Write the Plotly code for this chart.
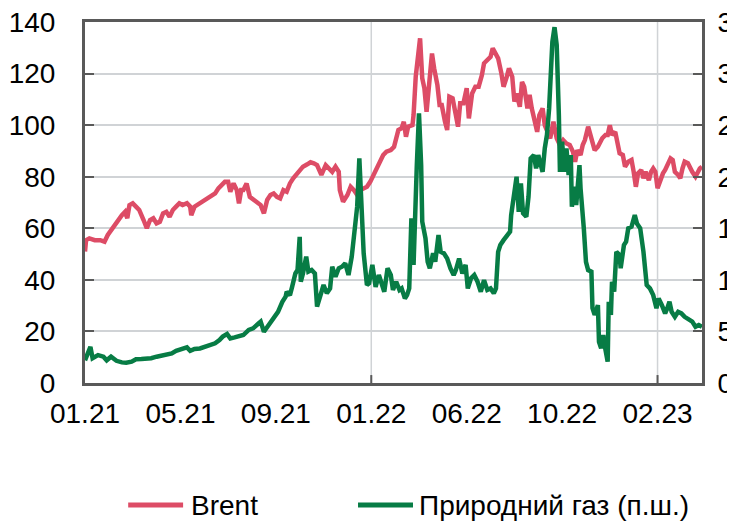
import plotly.graph_objects as go

# x positions are trading-day indices (tick label every 88 trading days)
tick_pos = [0, 88, 176, 264, 352, 440, 528]
tick_labels = ["01.21", "05.21", "09.21", "01.22", "06.22", "10.22", "02.23"]
grid_days = [264, 528]

brent_x = [0, 1, 4, 9, 14, 18, 21, 24, 27, 30, 34, 37, 39, 41, 44, 47, 50, 54, 57, 60,
           63, 66, 69, 72, 75, 78, 81, 84, 87, 90, 94, 97, 98, 101, 106, 110, 115, 120, 123, 126,
           129, 132, 134, 137, 140, 142, 144, 146, 149, 152, 155, 158, 162, 165, 168, 171, 174, 177, 180, 183,
           186, 189, 192, 195, 198, 201, 205, 208, 211, 214, 218, 222, 225, 228, 231, 234, 235, 238, 242, 245,
           248, 251, 254, 257, 260, 263, 266, 269, 272, 275, 278, 282, 285, 286, 289, 292, 294, 296, 298, 302,
           303, 305, 307, 309, 311, 313, 315, 318, 320, 322, 325, 327, 329, 332, 334, 336, 339, 342, 344, 346,
           349, 352, 354, 357, 360, 363, 366, 368, 371, 374, 376, 378, 381, 384, 386, 389, 391, 394, 396, 398,
           401, 403, 405, 408, 410, 412, 415, 417, 419, 422, 424, 426, 429, 432, 435, 438, 441, 444, 447, 450,
           452, 454, 457, 459, 461, 464, 466, 468, 470, 473, 475, 477, 480, 482, 484, 486, 489, 491, 493, 496,
           498, 501, 504, 506, 508, 510, 513, 515, 517, 520, 522, 524, 526, 528, 530, 533, 535, 537, 540, 542,
           544, 547, 549, 551, 553, 556, 558, 560, 563, 565, 567, 569]
brent_y = [51, 55.4, 56.1, 55.4, 55.4, 54.8, 57.4, 59.3, 61.3, 63.2, 65.1, 66.4, 63.9, 69, 69.7, 68.4, 67.1, 63.2, 60, 63.2,
           63.9, 61.9, 62.5, 65.8, 66.4, 64.5, 67.1, 68.4, 69.7, 69, 69.7, 68.4, 65.1, 68.4, 69.7, 71, 72.2, 73.5, 75.5, 76.8,
           78, 78, 74.2, 77.4, 74.8, 69.7, 74.8, 74.8, 77.4, 72.2, 71, 70.3, 69, 65.8, 71, 72.9, 73.5, 72.2, 71.6, 74.8,
           74.2, 77.4, 79.4, 80.7, 82.6, 83.9, 84.8, 85.6, 85.2, 84.5, 80.7, 84.5, 83.2, 81.9, 83.9, 81.9, 74.8, 70.3, 72.9, 76.1,
           74.8, 72.9, 74.8, 75.5, 76.1, 78, 80.7, 83.2, 85.2, 88.4, 89.7, 90.3, 91.6, 93, 98.1, 98.8, 101.3, 95.5, 99.4, 100,
           103.9, 118.8, 125.9, 133.7, 118.2, 114.3, 105.2, 118.2, 127.8, 122, 115.5, 107.8, 107.8, 101.3, 98.1, 111, 110.4, 103.9, 99.4, 108.5,
           108.5, 114.3, 102.6, 112.3, 114.9, 114.9, 119.4, 124, 125.2, 126.5, 129.8, 128.5, 125.9, 120.1, 114.9, 118.8, 122, 118.8, 109.1, 112.3,
           107.1, 116.8, 114.9, 106.5, 111.7, 106.5, 100, 97.4, 103.9, 106.5, 100, 97.4, 94.9, 101.3, 94.9, 92.3, 94.2, 92.9, 92.3, 89.7,
           85.8, 90.3, 88.4, 92.3, 94.2, 99.4, 96.8, 92.9, 90.3, 91.6, 93.6, 94.9, 96.2, 96.2, 100, 96.2, 97.4, 92.9, 89.1, 88.4,
           83.9, 85.8, 86.5, 81.9, 76.1, 81.3, 82.6, 79.4, 81.9, 78.7, 81.9, 83.2, 81.9, 75.5, 78.0, 81.3, 82.6, 84.5, 87.1, 86.5,
           81.9, 80.7, 79.4, 83.2, 85.8, 85.2, 83.2, 81.9, 80.0, 81.9, 83.2, 83.9]

gas_x = [0, 3, 5, 7, 12, 17, 20, 24, 29, 34, 38, 43, 47, 52, 57, 61, 66, 70, 75, 80,
         84, 89, 94, 97, 101, 106, 110, 115, 120, 124, 127, 131, 134, 138, 143, 146, 151, 155, 160, 162,
         165, 168, 172, 175, 178, 182, 185, 186, 189, 191, 194, 196, 198, 199, 201, 204, 206, 209, 212, 214,
         217, 220, 223, 226, 228, 231, 234, 237, 240, 243, 246, 249, 251, 253, 255, 257, 260, 262, 265, 268,
         271, 274, 276, 279, 282, 284, 287, 290, 292, 295, 297, 299, 300, 301, 303, 305, 306, 308, 310, 311,
         314, 316, 318, 321, 323, 326, 328, 331, 334, 337, 340, 342, 345, 348, 351, 353, 356, 359, 362, 365,
         368, 371, 374, 377, 379, 381, 383, 386, 389, 392, 393, 395, 398, 400, 402, 404, 407, 409, 411, 414,
         416, 418, 422, 424, 426, 428, 431, 433, 435, 437, 438, 440, 442, 444, 446, 448, 449, 451, 453, 456,
         457, 460, 462, 464, 467, 468, 470, 473, 474, 476, 478, 480, 482, 483, 485, 486, 488, 490, 493, 494,
         497, 499, 501, 504, 507, 509, 512, 515, 518, 521, 524, 527, 529, 532, 535, 537, 539, 541, 544, 547,
         550, 553, 557, 560, 563, 566, 569]
gas_y = [22, 29, 35, 24, 27, 25.5, 22, 25.5, 21.5, 20, 19.7, 20.7, 23, 23.2, 23.2, 24, 25.5, 26.2, 27.2, 28.7,
         31.2, 32.5, 34.5, 31.2, 33, 33.5, 35.2, 36.7, 38.5, 41.7, 45, 47.5, 43.2, 44.2, 45.5, 46.5, 51.5, 53, 57.7, 59.5,
         49.7, 54.5, 61, 64.2, 69, 78.7, 83.7, 88.5, 85.2, 93.2, 106.2, 109.5, 141.7, 98.2, 106.2, 122.5, 108, 109.5, 106.2, 74,
         83.7, 95, 87, 91.7, 112.7, 103, 111.2, 112.7, 116, 104.7, 122.5, 148.2, 171, 217.7, 177.5, 125.7, 95, 96.7, 114.5, 93.2,
         104.7, 93.2, 88.5, 111.2, 104.7, 90.2, 98.2, 90.2, 91.7, 82, 85.2, 91.7, 159.7, 159.7, 114.5, 195, 211, 261.5, 211, 156.5,
         140.2, 117.5, 111.2, 125.7, 117.5, 143.5, 127.2, 125.7, 120.7, 111.2, 104.7, 109.5, 120.7, 106.2, 114.5, 91.7, 101.5, 104.7, 98.2, 88.5,
         99.7, 90.2, 91.7, 87, 91.7, 127.2, 133.7, 138.5, 143.5, 146.7, 162.7, 180.5, 200, 166, 193.5, 164.5, 161.2, 180.5, 217.7, 221,
         208, 221, 204.7, 227.5, 240.5, 266, 330.7, 345, 327.7, 259.7, 204.7, 234, 204.7, 227.5, 201.7, 221, 171, 190.2, 172.5, 211.2,
         188.7, 150, 117.5, 109.5, 108, 72.5, 66, 75.5, 40, 33.7, 46.5, 32, 20.7, 78.7, 66, 98.2, 88.5, 127.2, 124, 111.2,
         133.7, 137, 150, 151.5, 162.7, 154.7, 150, 127.2, 95, 91.7, 85.2, 72.5, 82, 75.5, 67.5, 72.5, 78.7, 69, 64.2, 69,
         67.5, 64.2, 61, 59.5, 54.5, 56.2, 54.5]

RED = "#dd4c66"
GREEN = "#077c45"
AXIS = "#595959"
GRID = "#d0d3d6"
FONT = "Liberation Sans, Arial, sans-serif"
FS = 28

fig = go.Figure()
fig.add_trace(go.Scatter(x=brent_x, y=brent_y, mode="lines", name="Brent",
                         line=dict(color=RED, width=4.5), showlegend=False))
fig.add_trace(go.Scatter(x=gas_x, y=gas_y, mode="lines", name="Природний газ (п.ш.)",
                         line=dict(color=GREEN, width=4.5), yaxis="y2", showlegend=False))

shapes = []
for d in grid_days:
    shapes.append(dict(type="line", xref="x", yref="paper", x0=d, x1=d, y0=0, y1=1,
                       line=dict(color=GRID, width=1.5), layer="below"))
    shapes.append(dict(type="line", xref="x", yref="paper", x0=d, x1=d, y0=0, y1=0.022,
                       line=dict(color=AXIS, width=2)))

# manual legend
LY = -0.338
legend_items = [("Brent", RED, 0.07, 0.159, 0.169), ("Природний газ (п.ш.)", GREEN, 0.4425, 0.5316, 0.538)]
annotations = []
for name, col, x0, x1, xt in legend_items:
    shapes.append(dict(type="line", xref="paper", yref="paper", x0=x0, x1=x1, y0=LY, y1=LY,
                       line=dict(color=col, width=5)))
    annotations.append(dict(text=name, xref="paper", yref="paper", x=xt, y=LY, xanchor="left",
                            yanchor="middle", showarrow=False, font=dict(size=FS, color="#000", family=FONT)))

# page has an 8px body margin; figure sized to fill the rest of the window
fig.update_layout(
    width=727, height=513,
    margin=dict(l=77, r=33, t=14, b=138, autoexpand=False),
    paper_bgcolor="white", plot_bgcolor="white",
    font=dict(family=FONT, size=FS, color="#000"),
    xaxis=dict(range=[0, 569], tickvals=tick_pos, ticktext=tick_labels, ticks="",
               showgrid=False, zeroline=False, showline=True, linecolor=AXIS, linewidth=3,
               mirror=True, ticklabelstandoff=3, tickfont=dict(size=FS), automargin=False,
               ticklabeloverflow="allow"),
    yaxis=dict(range=[0, 140], dtick=20, ticks="inside", ticklen=9, tickwidth=2, tickcolor=AXIS,
               showgrid=True, gridcolor=GRID, gridwidth=1.5, zeroline=False,
               showline=True, linecolor=AXIS, linewidth=3, ticklabelstandoff=21, tickfont=dict(size=FS),
               automargin=False, ticklabeloverflow="allow"),
    yaxis2=dict(range=[0, 350], dtick=50, overlaying="y", side="right", ticks="inside", ticklen=9,
                tickwidth=2, tickcolor=AXIS, showgrid=False, zeroline=False,
                showline=True, linecolor=AXIS, linewidth=3, ticklabelstandoff=7, tickfont=dict(size=FS),
                automargin=False, ticklabeloverflow="allow"),
    shapes=shapes, annotations=annotations,
)

fig.write_html("out.html")
